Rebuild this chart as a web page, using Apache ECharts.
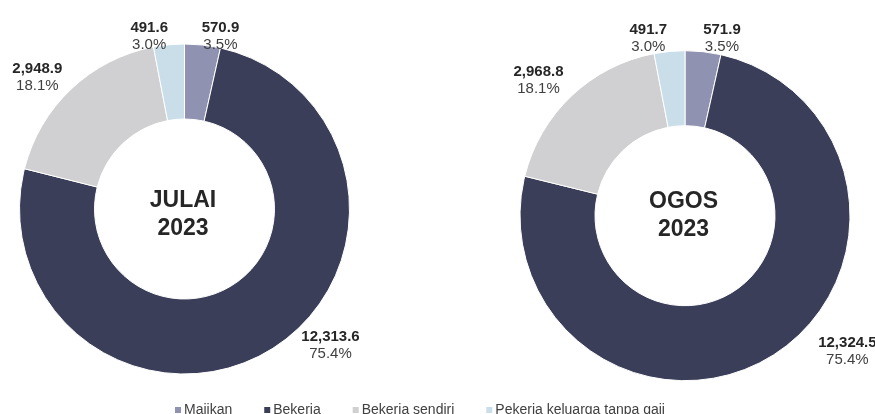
<!DOCTYPE html>
<html>
<head>
<meta charset="utf-8">
<script src="https://cdn.jsdelivr.net/npm/echarts@6/dist/echarts.min.js"></script>
<style>
  html, body { margin: 0; padding: 0; background: #ffffff; }
  #chart { width: 875px; height: 414px; }
</style>
</head>
<body>
<div id="chart"></div>
<script>
// Employment status breakdown ('000 persons), two months side by side
const categories = ['Majikan', 'Bekerja', 'Bekerja sendiri', 'Pekerja keluarga tanpa gaji'];
const periods = ['JULAI\n2023', 'OGOS\n2023'];
const julaiValues = [570.9, 12313.6, 2948.9, 491.6];
const ogosValues = [571.9, 12324.5, 2968.8, 491.7];
const julaiShares = ['3.5%', '75.4%', '18.1%', '3.0%'];
const ogosShares = ['3.5%', '75.4%', '18.1%', '3.0%'];

const colors = ['#8f92b0', '#3b3e59', '#d0cfd1', '#cadeea'];
const FONT = '"Liberation Sans", Arial, sans-serif';

// small per-slice label nudges (px) for each donut
const labelNudge = [
  [[-2, 1], [25, -13], [-2, -4.5], [0, 1.5]],
  [[-1, -3], [41, -13], [-1, -8], [-1.5, -3]]
];

const pieCenters = [[184.5, 209], [685, 215.7]];
const fmt = v => v.toLocaleString('en-US', { minimumFractionDigits: 1, maximumFractionDigits: 1 });

function donut(idx, values, shares) {
  return {
    type: 'pie',
    center: pieCenters[idx],
    radius: [90, 165],
    startAngle: 90,
    clockwise: true,
    avoidLabelOverlap: false,
    animation: false,
    silent: true,
    itemStyle: { borderColor: '#ffffff', borderWidth: 1 },
    labelLine: { show: false, length: 10, length2: 0 },
    label: {
      position: 'outside',
      distanceToLabelLine: 0,
      fontFamily: FONT,
      formatter: p => '{v|' + fmt(p.value) + '}\n{p|' + shares[p.dataIndex] + '}',
      rich: {
        v: { fontFamily: FONT, fontSize: 15, fontWeight: 'bold', color: '#262626', lineHeight: 17, align: 'center' },
        p: { fontFamily: FONT, fontSize: 15, color: '#404040', lineHeight: 17, align: 'center' }
      }
    },
    labelLayout: params => {
      const r = params.labelRect;
      const n = labelNudge[idx][params.dataIndex];
      return {
        x: r.x + r.width / 2 + n[0],
        y: r.y + r.height / 2 + n[1],
        align: 'center',
        verticalAlign: 'middle'
      };
    },
    data: categories.map((name, i) => ({ name, value: values[i], itemStyle: { color: colors[i] } }))
  };
}

const chart = echarts.init(document.getElementById('chart'), null, { renderer: 'canvas' });
chart.setOption({
  backgroundColor: '#ffffff',
  animation: false,
  title: periods.map((t, i) => ({
    text: t,
    left: pieCenters[i][0] - 1.5,
    top: 215 + (i ? 0.7 : -0.5),
    textAlign: 'center',
    textVerticalAlign: 'middle',
    padding: 0,
    textStyle: { fontFamily: FONT, fontSize: 23, fontWeight: 'bold', color: '#262626', lineHeight: 28 }
  })),
  legend: {
    left: 173,
    top: 403,
    icon: 'rect',
    itemWidth: 8,
    itemHeight: 8,
    itemGap: 30,
    padding: 0,
    selectedMode: false,
    data: categories,
    textStyle: { fontFamily: FONT, fontSize: 14, color: '#404040', padding: [0, 0, 0, -3] }
  },
  series: [donut(0, julaiValues, julaiShares), donut(1, ogosValues, ogosShares)]
});
</script>
</body>
</html>
